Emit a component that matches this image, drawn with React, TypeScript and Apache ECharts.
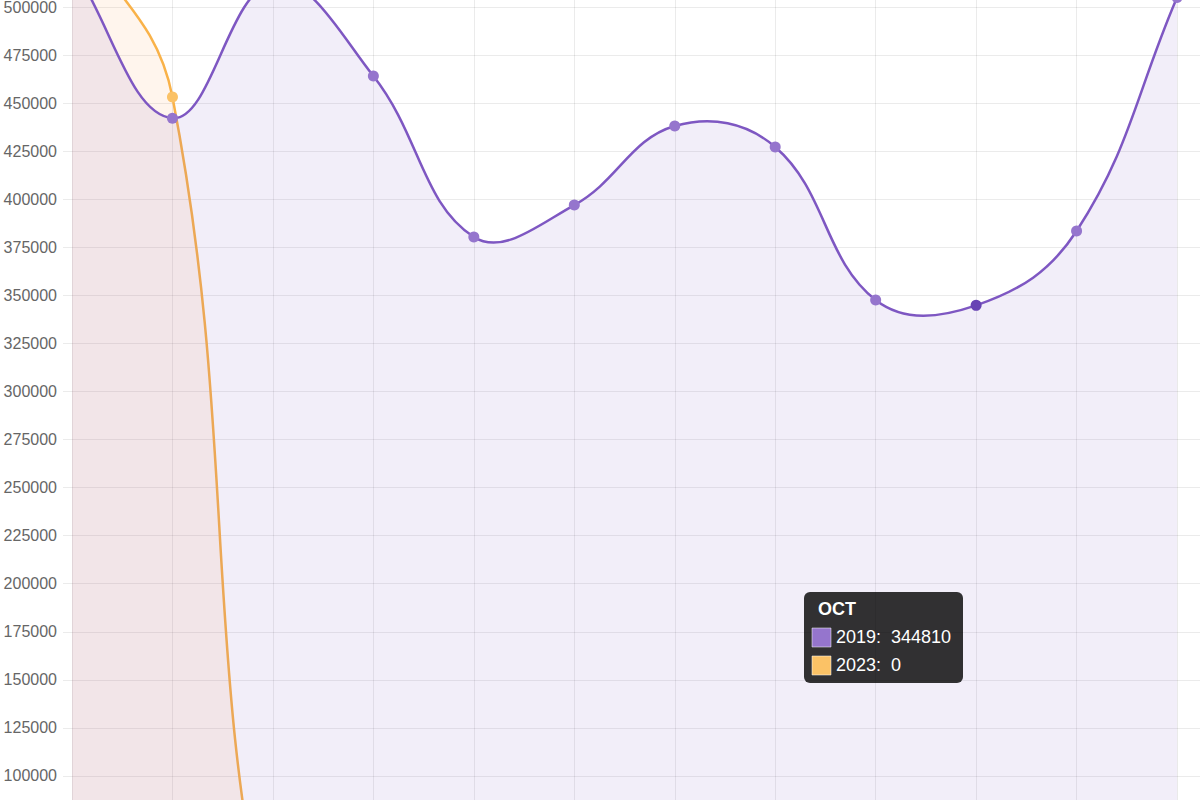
import React, { useEffect, useRef } from "react";
import * as echarts from "echarts";

const months = ["JAN", "FEB", "MAR", "APR", "MAY", "JUN", "JUL", "AUG", "SEP", "OCT", "NOV", "DEC"];
const values2019 = [522000, 442200, 513000, 464100, 380400, 397000, 438100, 427200, 347600, 344810, 383500, 505000];
const values2023 = [542000, 453200, 0, 0, 0, 0, 0, 0, 0, 0, 0, 0];
const seriesNames = ["2019", "2023"];
const yMin = 75000;
const yMax = 525000;
const yStep = 25000;
const hoverIndex = 9;
const tension = 0.4;

const FONT = "'Liberation Sans', Arial, Helvetica, sans-serif";
const PURPLE_LINE = "#7e57c2";
const PURPLE_POINT = "#9575cd";
const PURPLE_FILL = "rgba(126,87,194,0.1)";
const ORANGE_LINE = "#f9b249";
const ORANGE_POINT = "#fbc266";
const ORANGE_FILL = "rgba(255,160,80,0.1)";
const GRID = "rgba(0,0,0,0.08)";

// Chart.js-style cardinal spline (tension without clamping)
function splinePath(pts: number[][], t: number): string {
  const cps = pts.map((p, i) => {
    const prev = pts[i - 1] || p;
    const next = pts[i + 1] || p;
    const d01 = Math.hypot(p[0] - prev[0], p[1] - prev[1]);
    const d12 = Math.hypot(next[0] - p[0], next[1] - p[1]);
    let s01 = d01 / (d01 + d12);
    let s12 = d12 / (d01 + d12);
    if (isNaN(s01)) s01 = 0;
    if (isNaN(s12)) s12 = 0;
    const fa = t * s01;
    const fb = t * s12;
    return {
      prev: [p[0] - fa * (next[0] - prev[0]), p[1] - fa * (next[1] - prev[1])],
      next: [p[0] + fb * (next[0] - prev[0]), p[1] + fb * (next[1] - prev[1])],
    };
  });
  let d = `M${pts[0][0]},${pts[0][1]}`;
  for (let i = 1; i < pts.length; i++) {
    const a = cps[i - 1].next;
    const b = cps[i].prev;
    d += ` C${a[0]},${a[1]} ${b[0]},${b[1]} ${pts[i][0]},${pts[i][1]}`;
  }
  return d;
}

function curveSeries(name: string, values: number[], stroke: string, fill: string, z: number) {
  return {
    name,
    type: "custom",
    z,
    data: values.map((v, i) => [i, v]),
    renderItem: (params: any, api: any) => {
      if (params.dataIndex !== 0) return null;
      const pts = values.map((v, i) => api.coord([i, v]));
      const base = api.coord([0, 0])[1];
      const line = splinePath(pts, tension);
      const last = pts[pts.length - 1];
      const area = `${line} L${last[0]},${base} L${pts[0][0]},${base} Z`;
      return {
        type: "group",
        children: [
          { type: "path", shape: { pathData: area }, style: { fill, stroke: "none" } },
          { type: "path", shape: { pathData: line }, style: { fill: "none", stroke, lineWidth: 2.5 } },
        ],
      };
    },
  };
}

export default function App() {
  const ref = useRef<HTMLDivElement>(null);
  useEffect(() => {
    if (!ref.current) return;
    const chart = echarts.init(ref.current, null, { renderer: "svg" });
    const tipX = 804;
    const tipY = 592;
    chart.setOption({
      animation: false,
      grid: { left: 72, right: -77.5, top: -41, bottom: -24, containLabel: false, outerBoundsMode: "none" },
      xAxis: {
        type: "category",
        data: months,
        boundaryGap: false,
        max: 12,
        axisLine: { show: false },
        axisTick: { show: false },
        axisLabel: { show: false },
        splitLine: { show: true, lineStyle: { color: GRID, width: 1 } },
      },
      yAxis: {
        type: "value",
        min: yMin,
        max: yMax,
        interval: yStep,
        axisLine: { show: false },
        axisTick: { show: true, length: 9, lineStyle: { color: GRID } },
        axisLabel: {
          color: "#666",
          fontSize: 16,
          fontFamily: FONT,
          margin: 15,
          formatter: (v: number) => String(v),
        },
        splitLine: { show: true, lineStyle: { color: GRID, width: 1 } },
      },
      series: [
        curveSeries(seriesNames[1], values2023, ORANGE_LINE, ORANGE_FILL, 2),
        {
          name: seriesNames[1] + " points",
          type: "scatter",
          data: values2023,
          symbol: "circle",
          symbolSize: 11,
          itemStyle: { color: ORANGE_POINT, opacity: 1 },
          z: 3,
        },
        curveSeries(seriesNames[0], values2019, PURPLE_LINE, PURPLE_FILL, 4),
        {
          name: seriesNames[0] + " points",
          type: "scatter",
          data: values2019.map((v, i) =>
            i === hoverIndex ? { value: v, itemStyle: { color: "#6844b4" } } : v
          ),
          symbol: "circle",
          symbolSize: 11,
          itemStyle: { color: PURPLE_POINT, opacity: 1 },
          z: 5,
        },
      ],
      graphic: [
        {
          type: "rect",
          z: 100,
          shape: { x: tipX, y: tipY, width: 159, height: 91, r: 6 },
          style: { fill: "rgba(0,0,0,0.8)" },
        },
        {
          type: "text",
          z: 101,
          x: tipX + 14,
          y: tipY + 17,
          style: {
            text: months[hoverIndex],
            fill: "#fff",
            font: `bold 18px ${FONT}`,
            verticalAlign: "middle",
          },
        },
        {
          type: "rect",
          z: 101,
          shape: { x: tipX + 8, y: tipY + 36, width: 19, height: 19 },
          style: { fill: PURPLE_POINT, stroke: "rgba(255,255,255,0.5)", lineWidth: 1 },
        },
        {
          type: "text",
          z: 101,
          x: tipX + 32,
          y: tipY + 45,
          style: {
            text: `${seriesNames[0]}:  ${values2019[hoverIndex]}`,
            fill: "#fff",
            font: `18px ${FONT}`,
            verticalAlign: "middle",
          },
        },
        {
          type: "rect",
          z: 101,
          shape: { x: tipX + 8, y: tipY + 64, width: 19, height: 19 },
          style: { fill: ORANGE_POINT, stroke: "rgba(255,255,255,0.5)", lineWidth: 1 },
        },
        {
          type: "text",
          z: 101,
          x: tipX + 32,
          y: tipY + 73,
          style: {
            text: `${seriesNames[1]}:  ${values2023[hoverIndex]}`,
            fill: "#fff",
            font: `18px ${FONT}`,
            verticalAlign: "middle",
          },
        },
      ],
    });
    return () => chart.dispose();
  }, []);
  return (
    <div
      ref={ref}
      style={{ position: "absolute", left: 0, top: 0, width: 1200, height: 800, background: "#fff" }}
    />
  );
}
